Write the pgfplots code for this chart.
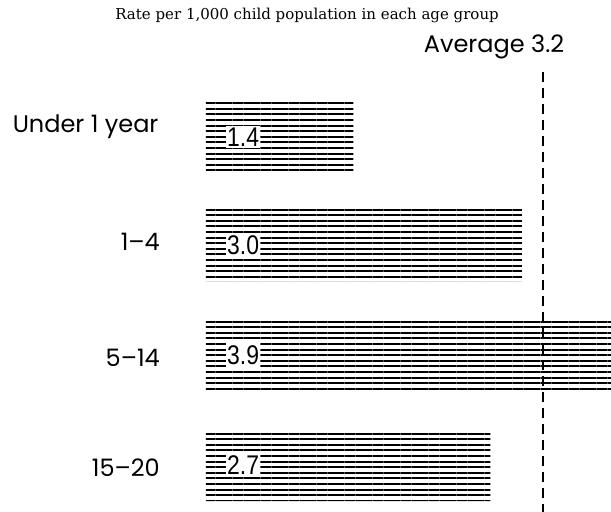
\documentclass[border=0pt]{standalone}
\usepackage{fontspec}
\usepackage{pgfplots}
\pgfplotsset{compat=1.18}
\usetikzlibrary{patterns.meta}
\setmainfont{DejaVu Serif}
\newfontfamily\geo{Poppins}
\newfontfamily\numf[FakeStretch=0.85]{Liberation Sans}
\begin{document}
\begin{tikzpicture}
\begin{axis}[
  width=611bp, height=512bp, scale only axis,
  axis lines=none,
  xmin=-1.956, xmax=3.846,
  ymin=0, ymax=512, y dir=reverse,
  clip=true,
]
\addplot[xbar, bar width=72, bar shift=0pt, draw=none, pattern={Lines[angle=0,distance=5.6bp,line width=1.9bp]}, pattern color=black]
  coordinates {(1.4,137) (3.0,245) (3.9,355) (2.7,465)};
\addplot[dash pattern=on 10bp off 6bp, line width=1.6bp] coordinates {(3.2,72) (3.2,512)};
\addplot[draw=none, mark=none, nodes near coords, point meta=explicit symbolic,
  every node near coord/.style={anchor=west, fill=white, inner xsep=1bp, inner ysep=2bp, font=\numf\fontsize{27bp}{28bp}\selectfont}]
  coordinates {(0.19,137) [1.4] (0.19,245) [3.0] (0.19,355) [3.9] (0.19,465) [2.7]};
\node[anchor=east, font=\geo\fontsize{24bp}{26bp}\selectfont] at (axis cs:-0.418,127) {Under 1 year};
\node[anchor=east, font=\geo\fontsize{24bp}{26bp}\selectfont] at (axis cs:-0.405,242) {1–4};
\node[anchor=east, font=\geo\fontsize{24bp}{26bp}\selectfont] at (axis cs:-0.405,358) {5–14};
\node[anchor=east, font=\geo\fontsize{24bp}{26bp}\selectfont] at (axis cs:-0.405,468) {15–20};
\node[font=\geo\fontsize{24bp}{26bp}\selectfont] at (axis cs:2.735,47) {Average 3.2};
\node[font=\fontsize{15bp}{16bp}\selectfont] at (axis cs:0.96,15) {Rate per 1,000 child population in each age group};
\end{axis}
\path (current axis.south west) rectangle (current axis.north east);
\end{tikzpicture}
\end{document}
